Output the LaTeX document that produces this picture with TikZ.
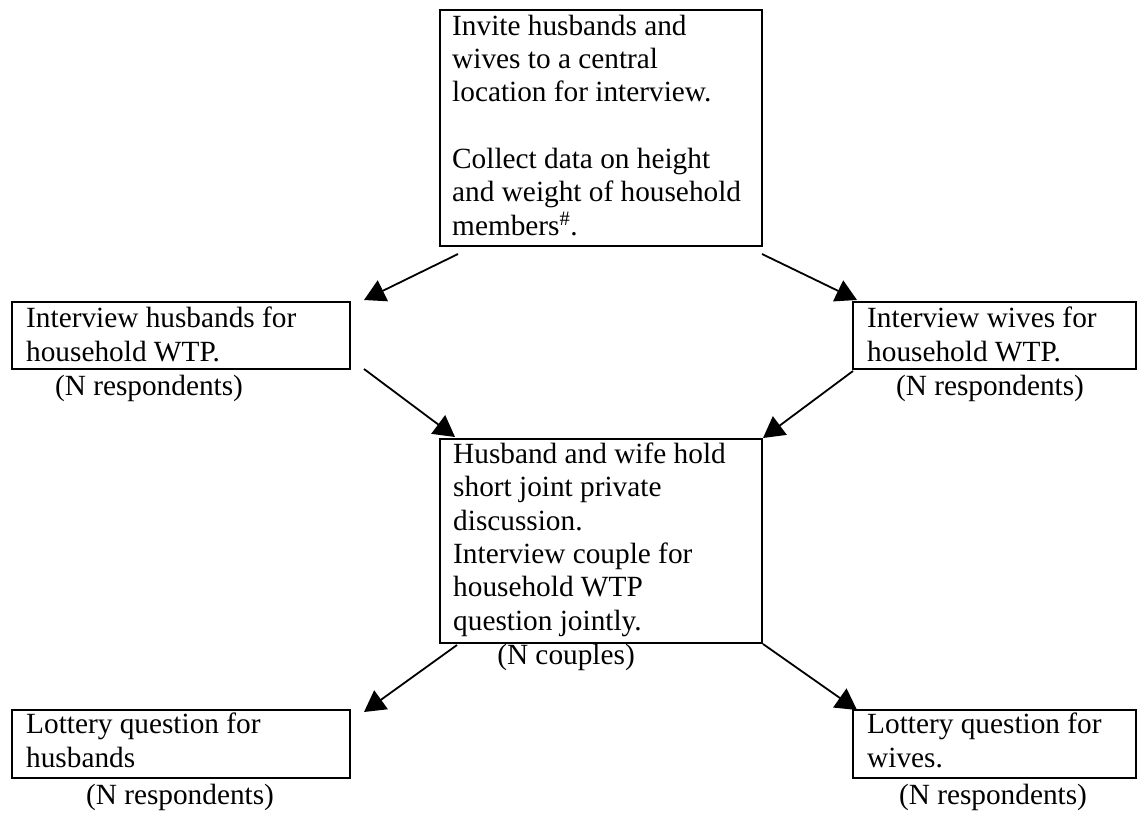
\documentclass[tikz,border=0pt]{standalone}
\usepackage{fontspec}
\setmainfont{Liberation Serif}
\usetikzlibrary{arrows.meta,calc}

\tikzset{
  stagebox/.style={draw, line width=2pt, rectangle, inner sep=0pt, anchor=north west},
  % multi-line texts: the base anchor sits on the last line
  boxtext/.style={inner sep=0pt, align=left, anchor=base west,
    font=\fontsize{29.3}{33.3}\selectfont},
  counttext/.style={inner sep=0pt, anchor=base,
    font=\fontsize{29.3}{33.3}\selectfont},
  flow/.style={line width=1.8pt, -{Triangle[length=21pt,width=23pt]}}
}

\begin{document}
\begin{tikzpicture}[x=1pt, y=-1pt]
  \useasboundingbox (0,0) rectangle (1138,812);

  % stage boxes
  \node[stagebox, minimum width=322, minimum height=236] (top) at (439,9) {};
  \node[stagebox, minimum width=338, minimum height=67] (hl) at (11,301) {};
  \node[stagebox, minimum width=283, minimum height=67] (hr) at (852,301) {};
  \node[stagebox, minimum width=322, minimum height=204] (mid) at (439,438) {};
  \node[stagebox, minimum width=338, minimum height=68] (ll) at (11,709) {};
  \node[stagebox, minimum width=283, minimum height=68] (lr) at (852,709) {};

  % box texts (positioned by the baseline of their last line)
  \node[boxtext] (topt) at (452,235) {Invite husbands and\\wives to a central\\location for interview.\\[33.3pt]Collect data on height\\and weight of household\\members\textsuperscript{\#}.};
  \node[boxtext] (hlt) at (26,361) {Interview husbands for\\household WTP.};
  \node[boxtext] (hrt) at (867,361) {Interview wives for\\household WTP.};
  \node[boxtext] (midt) at (453,630) {Husband and wife hold\\short joint private\\discussion.\\Interview couple for\\household WTP\\question jointly.};
  \node[boxtext] (llt) at (26,767) {Lottery question for\\husbands};
  \node[boxtext] (lrt) at (867,767) {Lottery question for\\wives.};

  % respondent counts
  \node[counttext] (hlc) at (149,395) {(N respondents)};
  \node[counttext] (hrc) at (990,395) {(N respondents)};
  \node[counttext] (midc) at (566,664) {(N couples)};
  \node[counttext] (llc) at (180,804) {(N respondents)};
  \node[counttext] (lrc) at (993,804) {(N respondents)};

  % flow between stages
  \draw[flow] ($(top.south west)+(19,7)$) -- ($(hl.north east)+(13,-1)$);
  \draw[flow] ($(top.south east)+(-1,7)$) -- ($(hr.north west)+(5,-1)$);
  \draw[flow] ($(hl.south east)+(13,-1)$) -- ($(mid.north west)+(16,-1)$);
  \draw[flow] ($(hr.south west)+(1,1)$) -- (mid.north east);
  \draw[flow] ($(mid.south west)+(18,1)$) -- ($(ll.north east)+(13,3)$);
  \draw[flow] (mid.south east) -- ($(lr.north west)+(5,1)$);
\end{tikzpicture}
\end{document}
